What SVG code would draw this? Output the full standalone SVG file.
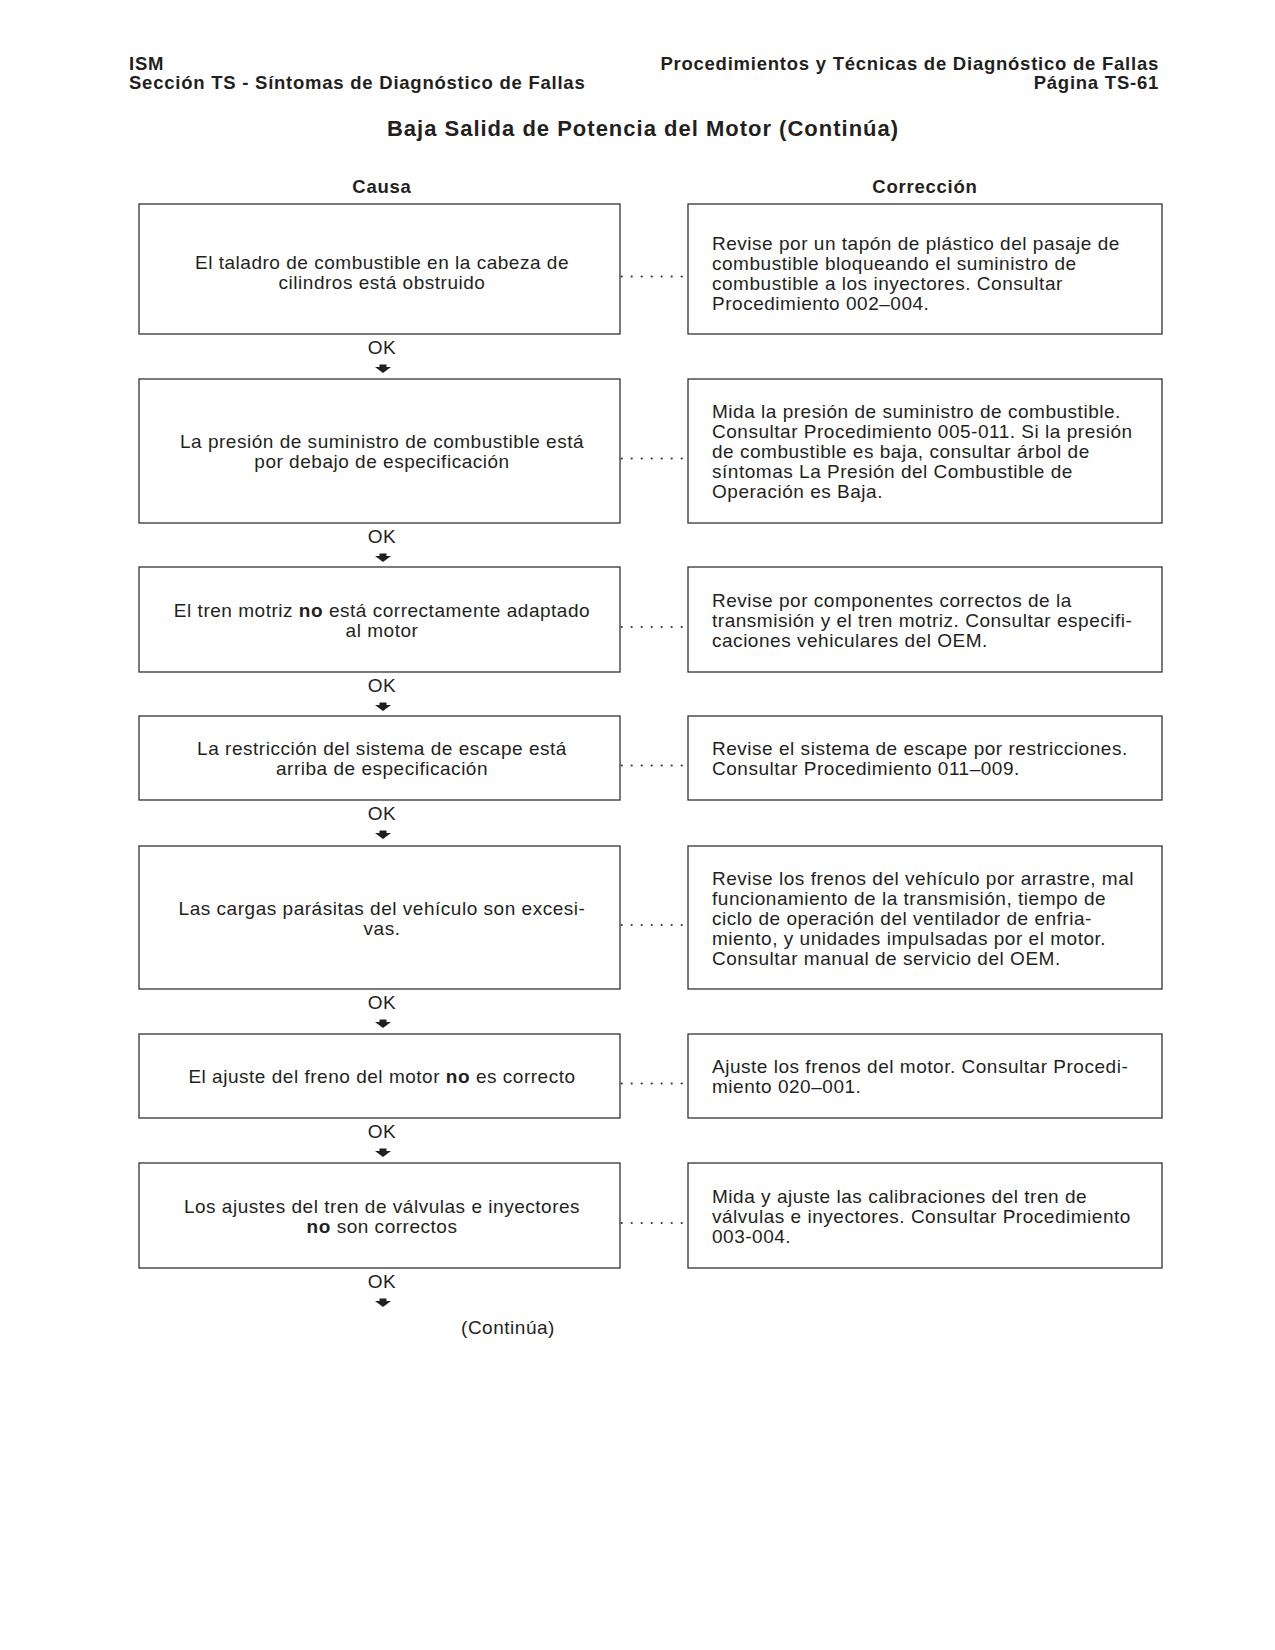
<svg xmlns="http://www.w3.org/2000/svg" width="1275" height="1650" viewBox="0 0 1275 1650">
<style>
text{font-family:"Liberation Sans",Arial,Helvetica,sans-serif;fill:#231f20}
.hd{font-size:18.5px;font-weight:bold;letter-spacing:0.76px}
.ti{font-size:22px;font-weight:bold;letter-spacing:1px}
.t{font-size:19px;letter-spacing:0.52px}
.c{text-anchor:middle}
.e{text-anchor:end}
.b{font-weight:bold}
rect.box{fill:#fff;stroke:#333;stroke-width:1.3}
.dot{fill:#333}
.arr{fill:#231f20}
</style>
<defs>
<g id="arrow"><rect x="-3.5" y="0" width="7" height="3"/><polygon points="-8,2.5 8,2.5 0,8.5"/></g>
<g id="dots"><circle cx="621.7" cy="0" r="1.1"/><circle cx="631.7" cy="0" r="1.1"/><circle cx="641.7" cy="0" r="1.1"/><circle cx="651.7" cy="0" r="1.1"/><circle cx="661.7" cy="0" r="1.1"/><circle cx="671.7" cy="0" r="1.1"/><circle cx="681.7" cy="0" r="1.1"/></g>
</defs>
<rect width="1275" height="1650" fill="#fff"/>
<g id="header">
<text class="hd" x="129" y="70">ISM</text>
<text class="hd" x="129" y="89">Sección TS - Síntomas de Diagnóstico de Fallas</text>
<text class="hd e" x="1159" y="70">Procedimientos y Técnicas de Diagnóstico de Fallas</text>
<text class="hd e" x="1159" y="89">Página TS-61</text>
<text class="ti c" x="643" y="136">Baja Salida de Potencia del Motor (Continúa)</text>
<text class="hd c" x="382" y="192.5">Causa</text>
<text class="hd c" x="925" y="192.5">Corrección</text>
</g>
<g id="cause1"><rect class="box" x="139" y="204" width="481" height="130"/>
<text class="t c" x="382" y="269">El taladro de combustible en la cabeza de</text>
<text class="t c" x="382" y="289">cilindros está obstruido</text></g>
<g id="fix1"><rect class="box" x="688" y="204" width="474" height="130"/>
<text class="t" x="712" y="249.5">Revise por un tapón de plástico del pasaje de</text>
<text class="t" x="712" y="269.5">combustible bloqueando el suministro de</text>
<text class="t" x="712" y="289.5">combustible a los inyectores. Consultar</text>
<text class="t" x="712" y="309.5">Procedimiento 002–004.</text></g>
<g id="cause2"><rect class="box" x="139" y="379" width="481" height="144"/>
<text class="t c" x="382" y="448">La presión de suministro de combustible está</text>
<text class="t c" x="382" y="468">por debajo de especificación</text></g>
<g id="fix2"><rect class="box" x="688" y="379" width="474" height="144"/>
<text class="t" x="712" y="418">Mida la presión de suministro de combustible.</text>
<text class="t" x="712" y="438">Consultar Procedimiento 005-011. Si la presión</text>
<text class="t" x="712" y="458">de combustible es baja, consultar árbol de</text>
<text class="t" x="712" y="478">síntomas La Presión del Combustible de</text>
<text class="t" x="712" y="498">Operación es Baja.</text></g>
<g id="cause3"><rect class="box" x="139" y="567" width="481" height="105"/>
<text class="t c" x="382" y="616.5">El tren motriz <tspan class="b">no</tspan> está correctamente adaptado</text>
<text class="t c" x="382" y="636.5">al motor</text></g>
<g id="fix3"><rect class="box" x="688" y="567" width="474" height="105"/>
<text class="t" x="712" y="606.5">Revise por componentes correctos de la</text>
<text class="t" x="712" y="626.5">transmisión y el tren motriz. Consultar especifi-</text>
<text class="t" x="712" y="646.5">caciones vehiculares del OEM.</text></g>
<g id="cause4"><rect class="box" x="139" y="716" width="481" height="84"/>
<text class="t c" x="382" y="755">La restricción del sistema de escape está</text>
<text class="t c" x="382" y="775">arriba de especificación</text></g>
<g id="fix4"><rect class="box" x="688" y="716" width="474" height="84"/>
<text class="t" x="712" y="755">Revise el sistema de escape por restricciones.</text>
<text class="t" x="712" y="775">Consultar Procedimiento 011–009.</text></g>
<g id="cause5"><rect class="box" x="139" y="846" width="481" height="143"/>
<text class="t c" x="382" y="914.5">Las cargas parásitas del vehículo son excesi-</text>
<text class="t c" x="382" y="934.5">vas.</text></g>
<g id="fix5"><rect class="box" x="688" y="846" width="474" height="143"/>
<text class="t" x="712" y="884.5">Revise los frenos del vehículo por arrastre, mal</text>
<text class="t" x="712" y="904.5">funcionamiento de la transmisión, tiempo de</text>
<text class="t" x="712" y="924.5">ciclo de operación del ventilador de enfria-</text>
<text class="t" x="712" y="944.5">miento, y unidades impulsadas por el motor.</text>
<text class="t" x="712" y="964.5">Consultar manual de servicio del OEM.</text></g>
<g id="cause6"><rect class="box" x="139" y="1034" width="481" height="84"/>
<text class="t c" x="382" y="1083">El ajuste del freno del motor <tspan class="b">no</tspan> es correcto</text></g>
<g id="fix6"><rect class="box" x="688" y="1034" width="474" height="84"/>
<text class="t" x="712" y="1073">Ajuste los frenos del motor. Consultar Procedi-</text>
<text class="t" x="712" y="1093">miento 020–001.</text></g>
<g id="cause7"><rect class="box" x="139" y="1163" width="481" height="105"/>
<text class="t c" x="382" y="1212.5">Los ajustes del tren de válvulas e inyectores</text>
<text class="t c" x="382" y="1232.5"><tspan class="b">no</tspan> son correctos</text></g>
<g id="fix7"><rect class="box" x="688" y="1163" width="474" height="105"/>
<text class="t" x="712" y="1202.5">Mida y ajuste las calibraciones del tren de</text>
<text class="t" x="712" y="1222.5">válvulas e inyectores. Consultar Procedimiento</text>
<text class="t" x="712" y="1242.5">003-004.</text></g>
<g id="connectors">
<g class="dot">
<use href="#dots" y="276.5"/><use href="#dots" y="458.5"/><use href="#dots" y="627"/><use href="#dots" y="765.5"/><use href="#dots" y="925"/><use href="#dots" y="1083.5"/><use href="#dots" y="1223"/>
</g>
<g class="arr">
<use href="#arrow" x="383" y="364.5"/><use href="#arrow" x="383" y="553.5"/><use href="#arrow" x="383" y="702.5"/><use href="#arrow" x="383" y="830.5"/><use href="#arrow" x="383" y="1019.5"/><use href="#arrow" x="383" y="1148.5"/><use href="#arrow" x="383" y="1298.5"/>
</g>
<g>
<text class="t c" x="382" y="353.5">OK</text>
<text class="t c" x="382" y="542.5">OK</text>
<text class="t c" x="382" y="691.5">OK</text>
<text class="t c" x="382" y="819.5">OK</text>
<text class="t c" x="382" y="1008.5">OK</text>
<text class="t c" x="382" y="1137.5">OK</text>
<text class="t c" x="382" y="1287.5">OK</text>
</g>
</g>
<text class="t c" x="508" y="1334">(Continúa)</text>
</svg>
